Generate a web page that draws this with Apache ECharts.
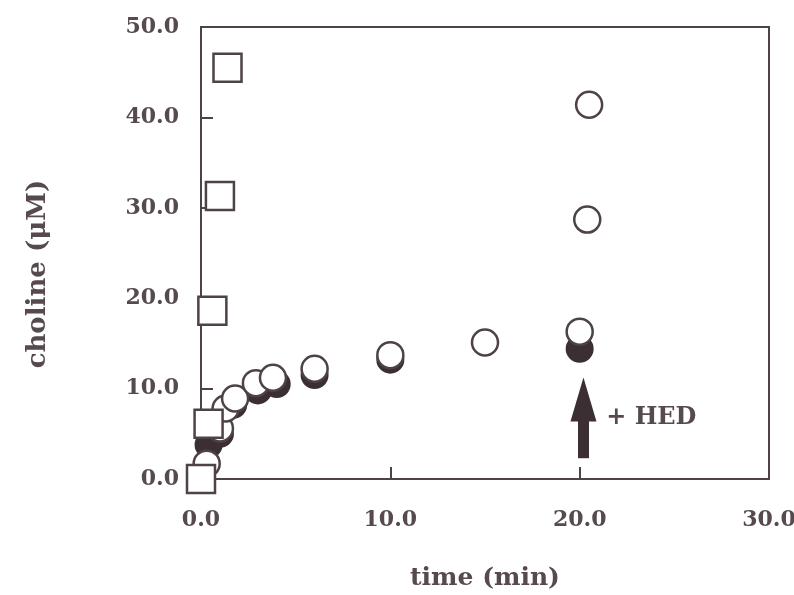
<!DOCTYPE html>
<html>
<head>
<meta charset="utf-8">
<script src="https://cdn.jsdelivr.net/npm/echarts@6/dist/echarts.min.js"></script>
<style>
  html, body { margin: 0; padding: 0; background: #ffffff; }
  #chart { width: 794px; height: 595px; }
</style>
</head>
<body>
<div id="chart"></div>
<script>
// time (min) / choline (µM)
const openTime = [0.3, 1.0, 1.3, 1.8, 2.9, 3.8, 6.0, 10.0, 15.0, 20.0, 20.4, 20.5];
const openChol = [1.7, 5.6, 7.8, 8.9, 10.6, 11.2, 12.2, 13.7, 15.1, 16.3, 28.7, 41.4];

const filledTime = [0.4, 1.0, 1.7, 3.0, 4.0, 6.0, 10.0, 20.0];
const filledChol = [3.8, 5.0, 8.2, 9.8, 10.5, 11.5, 13.2, 14.4];

const squareTime = [0.0, 0.4, 0.6, 1.0, 1.4];
const squareChol = [0.0, 6.1, 18.6, 31.3, 45.5];

const xTicks = [0, 10, 20, 30];
const yTicks = [0, 10, 20, 30, 40, 50];

// HED addition arrow (time, from -> to) and its label position
const arrowTime = 20.2;
const arrowFrom = 2.3;
const arrowTo = 8.8;
const hedLabel = [21.4, 6.75];

const INK = "#4d4247";
const TEXT = "#564a4f";
const FONT = "'DejaVu Serif', 'Liberation Serif', serif";

function zip(xs, ys) {
  return xs.map((x, i) => [x, ys[i]]);
}

const chart = echarts.init(document.getElementById("chart"));

chart.setOption({
  animation: false,
  backgroundColor: "#ffffff",
  grid: {
    left: 201, right: 25, top: 27, bottom: 116,
    outerBoundsMode: "none",
    containLabel: false,
    show: true, borderColor: INK, borderWidth: 2,
  },
  xAxis: {
    type: "value",
    min: xTicks[0], max: xTicks[xTicks.length - 1], interval: 10,
    name: "time (min)",
    nameLocation: "middle",
    nameGap: 87,
    nameTextStyle: { fontFamily: FONT, fontWeight: "bold", fontSize: 25, color: TEXT },
    axisLine: { lineStyle: { color: INK, width: 2 } },
    axisTick: { inside: true, length: 12, lineStyle: { color: INK, width: 2 } },
    axisLabel: {
      margin: 30, fontFamily: FONT, fontWeight: "bold", fontSize: 22, color: TEXT,
      formatter: (v) => v.toFixed(1),
    },
    splitLine: { show: false },
  },
  yAxis: {
    type: "value",
    min: yTicks[0], max: yTicks[yTicks.length - 1], interval: 10,
    name: "choline (μM)",
    nameLocation: "middle",
    nameGap: 150,
    nameTextStyle: {
      fontFamily: FONT, fontWeight: "bold", fontSize: 26, color: TEXT,
      padding: [0, 42, 0, 0],
    },
    axisLine: { lineStyle: { color: INK, width: 2 } },
    axisTick: { inside: true, length: 12, lineStyle: { color: INK, width: 2 } },
    axisLabel: {
      margin: 22, fontFamily: FONT, fontWeight: "bold", fontSize: 22, color: TEXT,
      formatter: (v) => v.toFixed(1),
    },
    splitLine: { show: false },
  },
  series: [
    {
      name: "filled",
      type: "scatter",
      clip: false,
      symbol: "circle",
      symbolSize: 26,
      data: zip(filledTime, filledChol),
      itemStyle: { color: "#3b2f33", borderColor: "#3b2f33", borderWidth: 2, opacity: 1 },
      z: 2,
    },
    {
      name: "open",
      type: "scatter",
      clip: false,
      symbol: "circle",
      symbolSize: 26,
      data: zip(openTime, openChol),
      itemStyle: { color: "#ffffff", borderColor: INK, borderWidth: 2.5, opacity: 1 },
      z: 3,
      markLine: {
        silent: true,
        symbol: ["none", "triangle"],
        symbolSize: [26, 44],
        label: { show: false },
        lineStyle: { color: "#3b2f33", width: 11, type: "solid", opacity: 1 },
        data: [[{ coord: [arrowTime, arrowFrom] }, { coord: [arrowTime, arrowTo] }]],
      },
      markPoint: {
        silent: true,
        symbol: "circle",
        symbolSize: 0,
        data: [{ coord: hedLabel }],
        label: {
          show: true,
          position: "right",
          distance: 0,
          formatter: "+ HED",
          fontFamily: FONT, fontWeight: "bold", fontSize: 24, color: TEXT,
        },
      },
    },
    {
      name: "square",
      type: "scatter",
      clip: false,
      symbol: "rect",
      symbolSize: 28,
      data: zip(squareTime, squareChol),
      itemStyle: { color: "#ffffff", borderColor: INK, borderWidth: 2.5, opacity: 1 },
      z: 4,
    },
  ],
});
</script>
</body>
</html>
